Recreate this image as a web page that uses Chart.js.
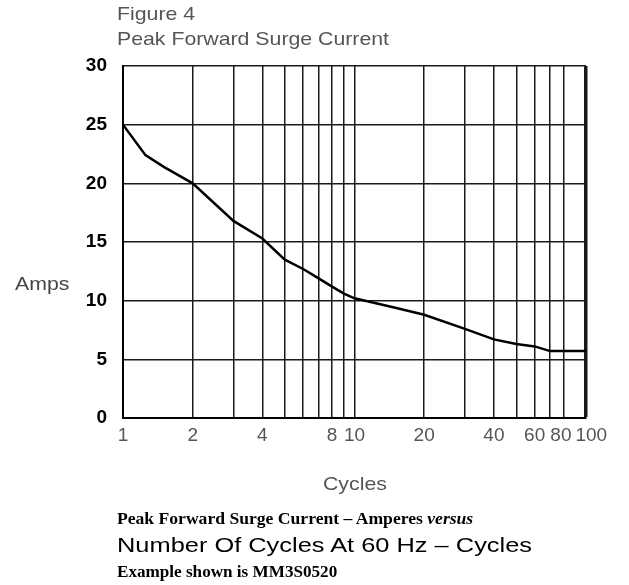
<!doctype html>
<html lang="en">
<head>
    <title>Peak Forward Surge Current</title>
    <meta charset="utf-8">
    <script src="https://cdn.jsdelivr.net/npm/chart.js@4.4.0/dist/chart.umd.min.js"></script>
    <style>
        body { margin: 0; background: #fff; }
        #wrap { position: relative; width: 629px; height: 585px; overflow: hidden; }
        #wrap canvas { position: absolute; left: 0; top: 0; }
        .txt { position: absolute; white-space: nowrap; transform-origin: 0 0; }
        .sans { font-family: "Liberation Sans", Arial, sans-serif; color: #555; font-size: 19px; transform: scaleX(1.12); }
        .serif { font-family: "Liberation Serif", "Times New Roman", serif; font-weight: bold; color: #000; font-size: 16px; transform: scaleX(1.1); }
    </style>
</head>
<body>
<div id="wrap">
    <canvas id="surgeChart" width="629" height="585"></canvas>
    <div class="txt sans" style="left:117px; top:3px;">Figure 4</div>
    <div class="txt sans" style="left:117px; top:28px;">Peak Forward Surge Current</div>
    <div class="txt sans" style="left:15px; top:273px; color:#444;">Amps</div>
    <div class="txt sans" style="left:323px; top:473px;">Cycles</div>
    <div class="txt serif" style="left:117px; top:510px;">Peak Forward Surge Current &ndash; Amperes <i>versus</i></div>
    <div class="txt sans" style="left:117px; top:534px; font-size:20px; color:#000; transform:scaleX(1.27);">Number Of Cycles At 60 Hz &ndash; Cycles</div>
    <div class="txt serif" style="left:117px; top:563px; transform:scaleX(1.07);">Example shown is MM3S0520</div>
</div>
<script>
    // curve
    const cycles = [1, 1.25, 1.5, 2, 3, 4, 5, 6, 7, 8, 9, 10, 15, 20, 30, 40, 50, 60, 70, 80, 100];
    const amps = [25, 22.4, 21.4, 20, 16.8, 15.3, 13.5, 12.7, 11.9, 11.2, 10.6, 10.2, 9.4, 8.8, 7.6, 6.7, 6.3, 6.1, 5.7, 5.7, 5.7];

    // grid lines and labelled ticks on the cycles axis
    const xGridValues = [1, 2, 3, 4, 5, 6, 7, 8, 9, 10, 20, 30, 40, 50, 60, 70, 80, 100];
    const xTickLabels = [1, 2, 4, 8, 10, 20, 40, 60, 80, 100];
    const yTickValues = [0, 5, 10, 15, 20, 25, 30];

    var ctx = document.getElementById('surgeChart').getContext('2d');
    var chart = new Chart(ctx, {
        type: 'line',
        data: {
            datasets: [{
                label: 'Amps',
                data: cycles.map(function (c, i) { return {x: c, y: amps[i]}; }),
                borderColor: '#000',
                borderWidth: 2.5,
                pointRadius: 0,
                tension: 0,
                fill: false
            }]
        },
        options: {
            responsive: false,
            animation: false,
            layout: {padding: {left: 0, top: 66, right: 43, bottom: 127}},
            plugins: {legend: {display: false}, tooltip: {enabled: false}},
            scales: {
                x: {
                    type: 'logarithmic',
                    min: 1,
                    max: 100,
                    afterBuildTicks: function (scale) {
                        scale.ticks = xGridValues.map(function (v) { return {value: v}; });
                    },
                    afterFit: function (scale) { scale.height = 40; },
                    border: {color: '#000', width: 2},
                    grid: {
                        color: '#1a1a1a',
                        lineWidth: function (c) { return c.tick && c.tick.value === 100 ? 3.5 : 1.5; },
                        drawTicks: false
                    },
                    ticks: {
                        autoSkip: false,
                        maxRotation: 0,
                        padding: 6,
                        color: '#555',
                        font: {family: 'Liberation Sans', size: 19},
                        callback: function (v) {
                            if (xTickLabels.indexOf(v) < 0) return '';
                            // nudge the last two labels apart like the original
                            if (v === 80) return '80 ';
                            if (v === 100) return '  100';
                            return String(v);
                        }
                    }
                },
                y: {
                    min: 0,
                    max: 30,
                    afterBuildTicks: function (scale) {
                        scale.ticks = yTickValues.map(function (v) { return {value: v}; });
                    },
                    afterFit: function (scale) { scale.width = 123; },
                    border: {color: '#000', width: 2},
                    grid: {color: '#1a1a1a', lineWidth: 1.5, drawTicks: false},
                    ticks: {
                        padding: 16,
                        color: '#000',
                        font: {family: 'Liberation Sans', size: 19, weight: 'bold'}
                    }
                }
            }
        }
    });
</script>
</body>
</html>
